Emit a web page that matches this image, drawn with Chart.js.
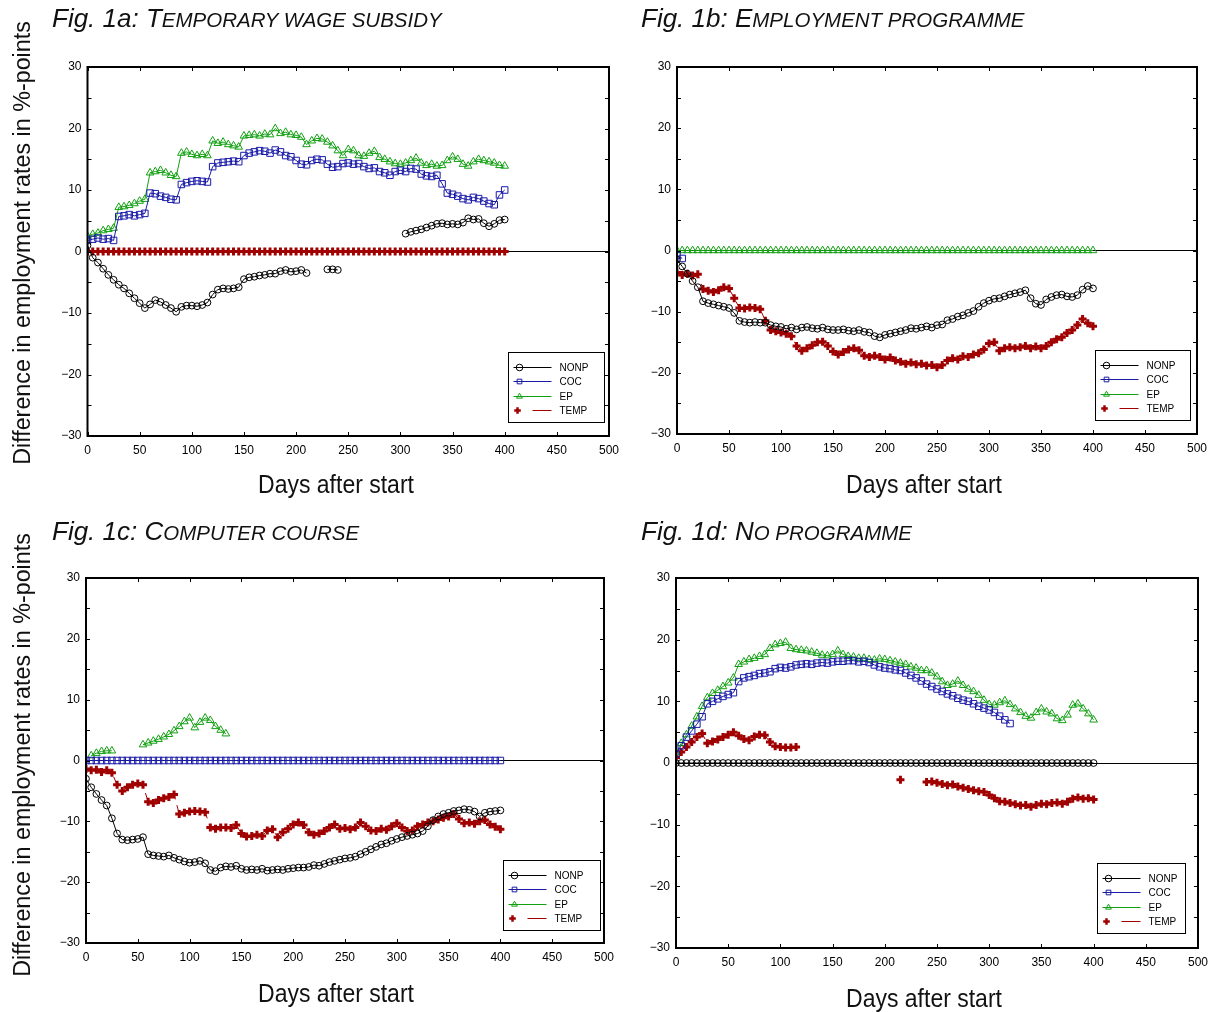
<!DOCTYPE html>
<html>
<head>
<meta charset="utf-8">
<script src="https://cdn.jsdelivr.net/npm/chart.js@4.4.1/dist/chart.umd.min.js"></script>
<style>
  body { margin: 0; background: #fff; width: 1220px; height: 1012px; position: relative; overflow: hidden;
         font-family: "Liberation Sans", Arial, sans-serif; color: #111; }
  .pan { position: absolute; }
  .ttl { position: absolute; font-style: italic; font-size: 26px; line-height: 30px; white-space: nowrap; }
  .ttl span { font-size: 20.5px; text-transform: uppercase; }
  .xt { position: absolute; width: 300px; text-align: center; font-size: 25px; line-height: 30px;
        transform: scaleX(0.92); white-space: nowrap; }
  .yt { position: absolute; width: 480px; height: 30px; text-align: center; font-size: 23.3px; line-height: 30px;
        transform: rotate(-90deg); white-space: nowrap; }
</style>
</head>
<body>
<canvas class="pan" id="c1a" width="626" height="510" style="left:0;top:0"></canvas>
<canvas class="pan" id="c1b" width="599" height="510" style="left:615px;top:0"></canvas>
<canvas class="pan" id="c1c" width="621" height="502" style="left:0;top:510px"></canvas>
<canvas class="pan" id="c1d" width="600" height="502" style="left:615px;top:510px"></canvas>
<div class="ttl" style="left:52px;top:3px">Fig. 1a: T<span>emporary wage subsidy</span></div>
<div class="ttl" style="left:641px;top:3px">Fig. 1b: E<span>mployment programme</span></div>
<div class="ttl" style="left:52px;top:516px">Fig. 1c: C<span>omputer course</span></div>
<div class="ttl" style="left:641px;top:516px">Fig. 1d: N<span>o programme</span></div>
<div class="xt" id="xt1a" style="left:186px;top:469px"></div>
<div class="xt" id="xt1b" style="left:774px;top:469px"></div>
<div class="xt" id="xt1c" style="left:186px;top:978px"></div>
<div class="xt" id="xt1d" style="left:774px;top:983px"></div>
<div class="yt" id="yt1a" style="left:-218px;top:228px"></div>
<div class="yt" id="yt1c" style="left:-218px;top:740px"></div>
<script>
// days after start, one value every 5 days
const days = [0,5,10,15,20,25,30,35,40,45,50,55,60,65,70,75,80,85,90,95,
  100,105,110,115,120,125,130,135,140,145,150,155,160,165,170,175,180,185,190,195,
  200,205,210,215,220,225,230,235,240,245,250,255,260,265,270,275,280,285,290,295,
  300,305,310,315,320,325,330,335,340,345,350,355,360,365,370,375,380,385,390,395,400];

const zeros = [0,0,0,0,0,0,0,0,0,0,0,0,0,0,0,0,0,0,0,0,0,0,0,0,0,0,0,0,0,0,0,0,0,0,0,0,0,0,0,0,
  0,0,0,0,0,0,0,0,0,0,0,0,0,0,0,0,0,0,0,0,0,0,0,0,0,0,0,0,0,0,0,0,0,0,0,0,0,0,0,0,0];

// Fig. 1a
const nonpA = [1.0,-1.0,-1.8,-2.8,-3.8,-4.6,-5.4,-6.0,-6.8,-7.6,
  -8.4,-9.2,-8.6,-7.9,-8.2,-8.7,-9.2,-9.8,-9.0,-8.8,
  -8.8,-8.9,-8.7,-8.3,-7.0,-6.2,-6.0,-6.1,-6.0,-5.8,
  -4.5,-4.2,-4.1,-3.9,-3.8,-3.6,-3.6,-3.2,-3.0,-3.3,
  -3.2,-3.0,-3.5,null,null,null,-2.9,-2.9,-3.0,null,
  null,null,null,null,null,null,null,null,null,null,
  null,2.9,3.2,3.4,3.6,3.9,4.2,4.5,4.6,4.4,
  4.5,4.4,4.7,5.4,5.2,5.3,4.6,4.1,4.5,5.1,5.2];
const cocA = [1.8,2.0,2.2,2.0,2.1,1.8,5.7,5.8,6.0,5.8,
  6.0,6.2,9.5,9.4,9.0,8.8,8.5,8.4,10.9,11.2,
  11.4,11.5,11.4,11.3,13.8,14.4,14.5,14.6,14.7,14.6,
  15.6,16.0,16.2,16.4,16.3,16.0,16.5,16.2,15.6,15.4,
  14.8,14.2,14.1,14.8,15.0,14.9,14.2,13.7,13.8,14.3,
  14.4,14.2,14.3,13.8,13.5,13.6,13.0,12.8,12.4,13.0,
  13.2,13.0,13.5,13.4,12.6,12.3,12.2,12.4,11.0,9.5,
  9.3,9.0,8.6,8.4,8.8,8.6,8.2,7.8,7.6,9.2,10.0];
const epA = [2.5,2.8,3.0,3.4,3.6,3.8,7.2,7.3,7.5,7.8,
  8.2,8.5,12.8,13.0,13.2,12.8,12.4,12.2,16.0,16.2,
  15.8,15.6,15.8,15.6,18.0,17.6,17.8,17.4,17.2,17.0,
  18.8,18.9,19.0,18.8,19.1,19.0,20.0,19.2,19.4,19.0,
  18.9,18.6,17.4,18.0,18.4,18.3,17.8,17.2,16.4,15.6,
  16.6,16.4,15.6,15.5,16.0,16.3,15.3,15.0,14.6,14.3,
  14.2,14.4,14.8,15.2,14.4,14.0,14.2,13.9,14.0,14.8,
  15.4,15.0,14.2,13.9,14.6,15.0,14.8,14.6,14.4,14.0,13.9];
const tempA = zeros;

// Fig. 1b
const nonpB = [-1.5,-2.6,-3.8,-5.0,-6.0,-8.3,-8.6,-8.8,-9.0,-9.2,
  -9.4,-10.2,-11.5,-11.7,-11.8,-11.7,-11.8,-11.8,-12.2,-12.4,
  -12.5,-12.8,-12.6,-12.9,-12.6,-12.5,-12.7,-12.8,-12.6,-12.9,
  -13.0,-13.0,-12.9,-13.1,-13.2,-13.0,-13.3,-13.4,-14.0,-14.2,
  -13.8,-13.6,-13.4,-13.2,-13.0,-12.7,-12.8,-12.6,-12.4,-12.6,
  -12.2,-12.1,-11.4,-11.2,-10.8,-10.6,-10.2,-9.9,-9.2,-8.6,
  -8.2,-7.9,-7.8,-7.5,-7.2,-7.0,-6.8,-6.5,-7.8,-8.7,
  -8.9,-8.0,-7.6,-7.3,-7.2,-7.5,-7.6,-7.3,-6.4,-5.8,-6.2];
const cocB = [-0.8,-1.3];
const epB = zeros;
const tempB = [-3.6,-4.0,-3.8,-4.1,-3.9,-6.3,-6.6,-6.8,-6.5,-6.0,
  -6.2,-7.8,-9.4,-9.5,-9.3,-9.4,-9.6,-11.5,-13.0,-13.2,
  -13.4,-13.6,-14.0,-15.6,-16.4,-16.0,-15.5,-15.0,-14.9,-15.6,
  -16.5,-17.0,-16.6,-16.2,-16.0,-16.3,-17.2,-17.4,-17.2,-17.4,
  -17.8,-17.5,-18.0,-18.2,-18.5,-18.3,-18.6,-18.5,-18.8,-18.7,
  -19.1,-18.7,-18.0,-17.6,-17.8,-17.3,-17.4,-17.0,-16.8,-16.2,
  -15.2,-15.0,-16.4,-16.0,-15.8,-16.0,-15.8,-15.6,-16.0,-15.7,
  -16.0,-15.6,-15.0,-14.5,-14.2,-13.5,-13.0,-12.2,-11.2,-11.9,-12.4];

// Fig. 1c
const nonpC = [-3.0,-4.4,-5.5,-6.5,-7.4,-9.5,-12.0,-13.0,-13.1,-13.0,
  -12.9,-12.6,-15.4,-15.6,-15.7,-15.8,-15.6,-16.0,-16.3,-16.6,
  -16.8,-16.7,-16.5,-16.9,-18.0,-18.2,-17.6,-17.4,-17.5,-17.3,
  -17.8,-18.0,-17.9,-18.0,-17.8,-18.1,-18.0,-17.9,-18.0,-17.8,
  -17.7,-17.6,-17.6,-17.5,-17.2,-17.3,-17.0,-16.7,-16.5,-16.3,
  -16.1,-16.0,-15.8,-15.4,-15.0,-14.6,-14.2,-13.8,-13.6,-13.2,
  -12.9,-12.6,-12.4,-12.2,-12.0,-11.6,-10.8,-9.8,-9.2,-8.8,
  -8.6,-8.3,-8.2,-8.0,-8.1,-8.4,-9.2,-8.6,-8.4,-8.3,-8.2];
const cocC = zeros;
const epC = [null,0.8,1.2,1.5,1.6,1.6,null,null,null,null,
  null,2.6,2.9,3.2,3.5,3.9,4.3,4.9,5.6,6.4,
  7.0,5.4,6.3,7.0,6.6,5.6,5.0,4.4];
const tempC = [-1.4,-1.6,-1.5,-1.9,-1.6,-2.0,-4.0,-5.0,-4.4,-4.0,
  -3.8,-4.0,-6.8,-7.0,-6.5,-6.2,-6.0,-5.6,-8.8,-8.6,
  -8.4,-8.3,-8.4,-8.5,-11.0,-11.2,-11.0,-11.0,-11.1,-10.6,
  -12.0,-12.5,-12.4,-12.2,-12.4,-11.5,-11.3,-12.6,-11.8,-11.2,
  -10.5,-10.2,-10.6,-11.8,-12.2,-12.0,-11.6,-11.0,-10.5,-11.2,
  -11.1,-11.3,-11.0,-10.2,-10.8,-11.5,-11.6,-11.2,-11.4,-10.8,
  -10.3,-11.0,-11.6,-11.5,-10.8,-10.5,-10.2,-10.0,-9.7,-9.4,
  -9.2,-8.8,-9.6,-10.3,-10.2,-10.4,-10.0,-9.8,-10.5,-10.9,-11.3];

// Fig. 1d
const nonpD = zeros;
const cocD = [1.5,2.8,4.2,5.2,6.3,7.5,9.6,10.0,10.4,10.8,
  11.1,11.4,13.2,13.8,14.0,14.2,14.5,14.6,14.8,15.3,
  15.5,15.4,15.6,15.9,16.0,16.1,16.0,16.2,16.3,16.2,
  16.4,16.5,16.5,16.6,16.6,16.4,16.5,16.3,15.9,15.6,
  15.4,15.3,15.1,15.0,14.6,14.2,13.8,13.3,12.8,12.4,
  12.0,11.6,11.2,10.9,10.5,10.2,10.0,9.6,9.2,8.9,
  8.6,8.2,7.6,7.0,6.4];
const epD = [1.7,3.2,4.6,6.0,7.5,9.2,10.6,11.3,11.8,12.4,
  13.0,13.8,16.0,16.4,16.8,17.0,17.3,17.6,18.6,19.2,
  19.4,19.6,18.6,18.4,18.3,18.2,18.0,17.8,17.5,17.4,
  17.6,18.2,17.6,17.3,17.2,17.0,17.0,16.8,16.7,16.9,
  16.8,16.6,16.4,16.2,16.0,15.6,15.4,15.0,15.0,14.6,
  14.0,13.2,12.6,12.8,13.3,12.6,12.0,11.6,11.0,10.2,
  9.5,9.4,9.8,10.1,9.5,8.8,8.2,7.6,7.3,8.2,
  8.8,8.3,8.0,7.2,6.9,7.8,9.4,9.6,8.8,8.0,7.0];
const tempD = [0.9,1.8,2.6,3.4,4.2,4.8,3.2,3.5,3.8,4.2,
  4.6,5.0,4.4,3.9,3.7,4.3,4.6,4.5,3.4,2.7,
  2.6,2.5,2.5,2.6,null,null,null,null,null,null,
  null,null,null,null,null,null,null,null,null,null,
  null,null,null,-2.7,null,null,null,null,-3.1,-3.0,
  -3.2,-3.4,-3.6,-3.5,-3.8,-4.0,-4.2,-4.4,-4.6,-4.7,
  -5.2,-5.7,-6.2,-6.3,-6.5,-6.7,-6.9,-6.8,-7.1,-6.8,
  -6.6,-6.7,-6.5,-6.4,-6.6,-6.3,-5.8,-5.6,-5.8,-5.7,-5.9];

const seriesNames = ['NONP', 'COC', 'EP', 'TEMP'];
const xTitle = 'Days after start';
const yTitle = 'Difference in employment rates in %-points';

// axis titles as page text
['xt1a', 'xt1b', 'xt1c', 'xt1d'].forEach(id => { document.getElementById(id).textContent = xTitle; });
['yt1a', 'yt1c'].forEach(id => { document.getElementById(id).textContent = yTitle; });

// =====================
// STYLE
// =====================
const sans = '"Liberation Sans", Arial, sans-serif';

const look = {
  NONP: { color: '#000000', pointStyle: 'circle',   radius: 3.4, pw: 1 },
  COC:  { color: '#1a1aa8', pointStyle: 'rect',     radius: 4.6, pw: 1 },
  EP:   { color: '#12a012', pointStyle: 'triangle', radius: 4.4, pw: 1 },
  TEMP: { color: '#a00000', pointStyle: 'cross',    radius: 4,   pw: 3, dash: [10, 6] }
};

function makeSet(name, vals) {
  const s = look[name];
  return {
    label: name,
    data: vals.map((v, i) => ({ x: days[i], y: v })),
    borderColor: s.color,
    borderWidth: 1,
    borderDash: s.dash || [],
    pointStyle: s.pointStyle,
    pointRadius: s.radius,
    pointBorderWidth: s.pw,
    pointBorderColor: s.color,
    pointBackgroundColor: 'rgba(0,0,0,0)',
    spanGaps: false,
    tension: 0
  };
}

// frame with inward tick marks on all four sides
const framePlugin = {
  id: 'frame',
  afterDraw(chart) {
    const { ctx, chartArea: a, scales: { x, y } } = chart;
    ctx.save();
    ctx.strokeStyle = '#000';
    ctx.lineWidth = 1;
    ctx.beginPath();
    y.ticks.forEach(t => {
      const py = Math.round(y.getPixelForValue(t.value)) + 0.5;
      ctx.moveTo(a.left, py); ctx.lineTo(a.left + 4, py);
      ctx.moveTo(a.right - 4, py); ctx.lineTo(a.right, py);
    });
    x.ticks.forEach(t => {
      const px = Math.round(x.getPixelForValue(t.value)) + 0.5;
      ctx.moveTo(px, a.top); ctx.lineTo(px, a.top + 4);
      ctx.moveTo(px, a.bottom - 4); ctx.lineTo(px, a.bottom);
    });
    ctx.stroke();
    ctx.lineWidth = 2;
    ctx.strokeRect(a.left, a.top, a.right - a.left, a.bottom - a.top);
    ctx.restore();
  }
};

// boxed legend in the lower right corner of the plot
const boxLegend = {
  id: 'boxLegend',
  afterDraw(chart, args, o) {
    const { ctx, chartArea: a } = chart;
    const x0 = Math.round(a.right - o.right - o.width) + 0.5;
    const y0 = Math.round(a.bottom - o.bottom - o.height) + 0.5;
    ctx.save();
    ctx.fillStyle = '#fff';
    ctx.fillRect(x0, y0, o.width, o.height);
    ctx.strokeStyle = '#000';
    ctx.lineWidth = 1;
    ctx.strokeRect(x0, y0, o.width, o.height);
    ctx.font = '10px ' + sans;
    ctx.textBaseline = 'middle';
    chart.data.datasets.forEach((ds, i) => {
      const yy = Math.round(y0 + 14 + i * 14.5) + 0.5;
      ctx.strokeStyle = ds.borderColor;
      ctx.lineWidth = 1;
      ctx.beginPath();
      if (ds.borderDash.length) {
        ctx.moveTo(x0 + 24, yy); ctx.lineTo(x0 + 43, yy);
      } else {
        ctx.moveTo(x0 + 5, yy); ctx.lineTo(x0 + 43, yy);
      }
      ctx.stroke();
      ctx.lineWidth = ds.borderDash.length ? 2.5 : 1;
      ctx.fillStyle = 'rgba(0,0,0,0)';
      Chart.helpers.drawPoint(ctx, {
        pointStyle: ds.pointStyle, radius: 3.3, rotation: 0, borderWidth: ctx.lineWidth
      }, x0 + (ds.borderDash.length ? 9 : 11), yy);
      ctx.fillStyle = '#000';
      ctx.fillText(ds.label, x0 + 51, yy + 0.5);
    });
    ctx.restore();
  }
};

function makePanel(id, sets, p) {
  return new Chart(document.getElementById(id), {
    type: 'line',
    data: { datasets: sets.map((vals, i) => makeSet(seriesNames[i], vals)) },
    options: {
      responsive: false,
      animation: false,
      devicePixelRatio: 1,
      layout: { padding: { top: p.top, right: 0, left: 0, bottom: 0 } },
      plugins: {
        legend: { display: false },
        tooltip: { enabled: false },
        boxLegend: p.legend
      },
      scales: {
        x: {
          type: 'linear', min: 0, max: 500,
          border: { display: false },
          grid: { display: false, drawTicks: false },
          ticks: { stepSize: 50, autoSkip: false, maxRotation: 0, padding: 7,
                   color: '#000', font: { size: 12, family: sans } },
          afterFit: s => { s.height = p.xh; }
        },
        y: {
          min: -30, max: 30,
          border: { display: false },
          grid: { drawTicks: false, lineWidth: 1,
                  color: c => (c.tick && c.tick.value === 0 ? '#000' : 'rgba(0,0,0,0)') },
          ticks: { stepSize: 5, autoSkip: false, padding: 6, color: '#000',
                   font: { size: 12, family: sans },
                   callback: v => (v % 10 === 0 ? (v < 0 ? '\u2212' + (-v) : String(v)) : '') },
          afterFit: s => { s.width = p.yw; }
        }
      }
    },
    plugins: [framePlugin, boxLegend]
  });
}

makePanel('c1a', [nonpA, cocA, epA, tempA], {
  top: 67, yw: 87.5, xh: 74,
  legend: { right: 5, bottom: 14, width: 96, height: 70 }
});
makePanel('c1b', [nonpB, cocB, epB, tempB], {
  top: 67, yw: 62, xh: 76,
  legend: { right: 7, bottom: 14, width: 95, height: 70 }
});
makePanel('c1c', [nonpC, cocC, epC, tempC], {
  top: 68, yw: 86, xh: 69,
  legend: { right: 4, bottom: 13, width: 97, height: 70 }
});
makePanel('c1d', [nonpD, cocD, epD, tempD], {
  top: 68, yw: 61, xh: 64,
  legend: { right: 13, bottom: 15, width: 88, height: 70 }
});
</script>
</body>
</html>
